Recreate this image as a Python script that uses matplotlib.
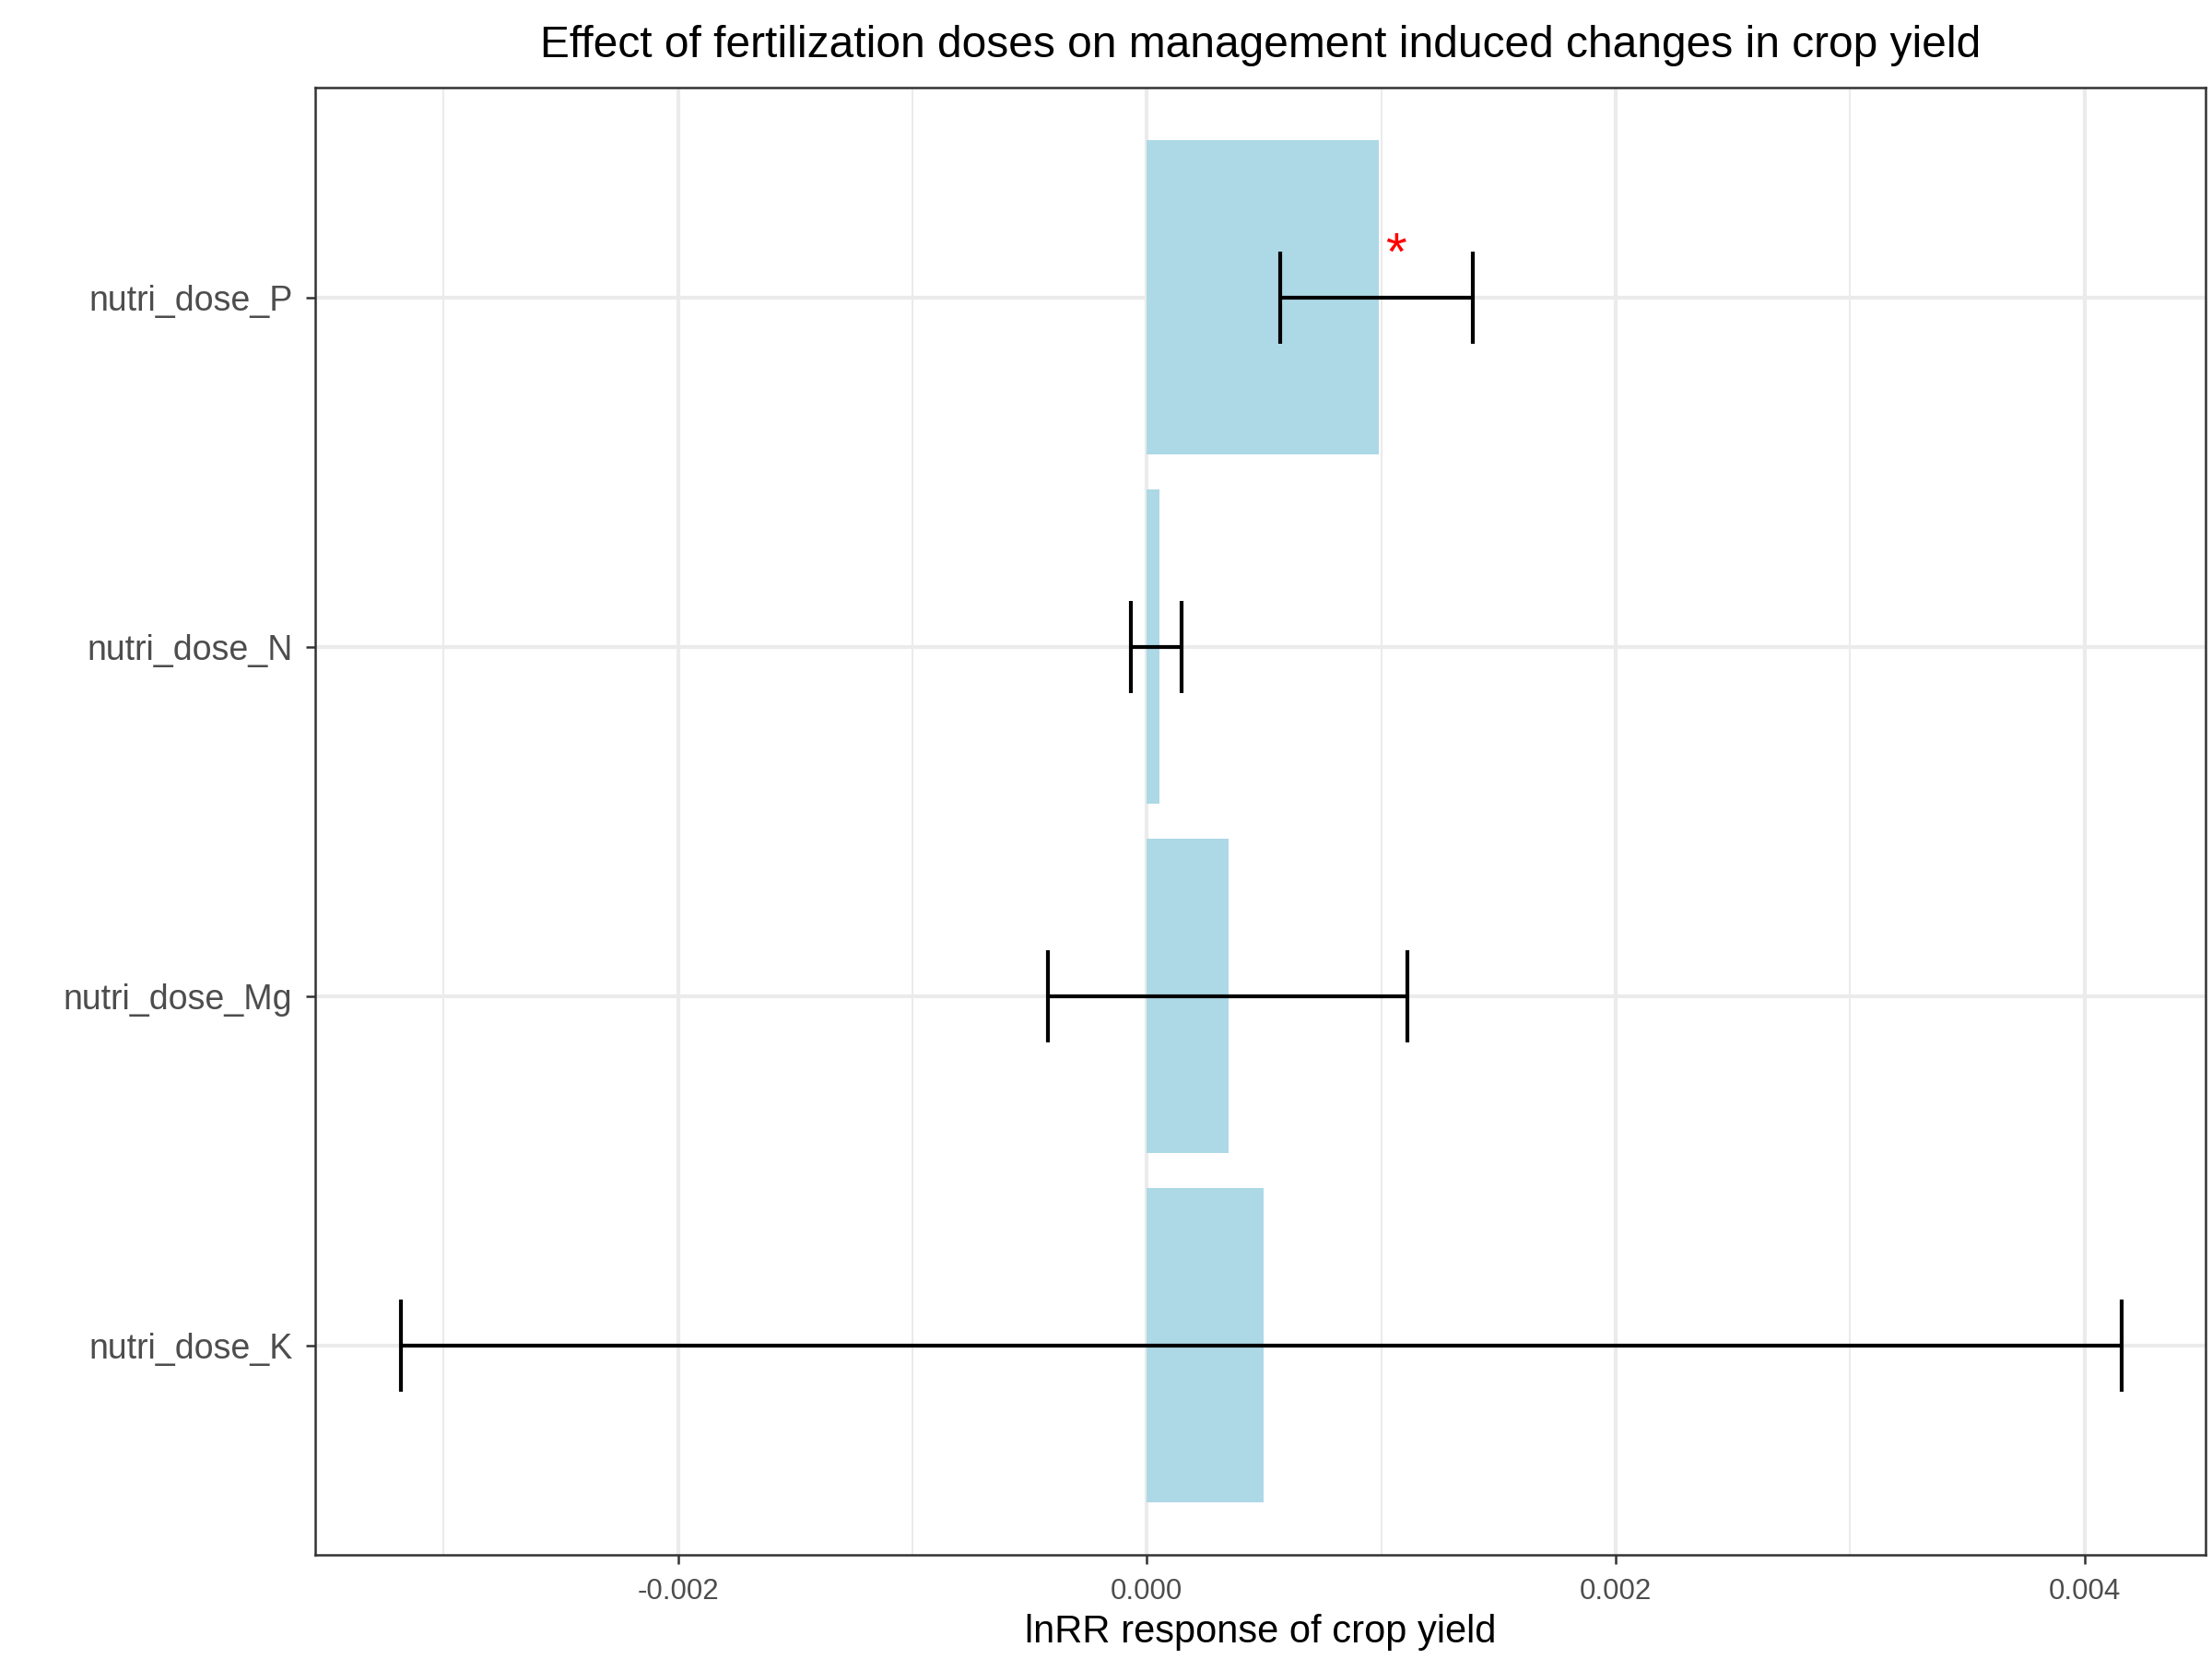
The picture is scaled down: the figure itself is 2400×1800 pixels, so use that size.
import matplotlib.pyplot as plt
import numpy as np

categories = ["nutri_dose_K", "nutri_dose_Mg", "nutri_dose_N", "nutri_dose_P"]
estimate = [0.00050, 0.00035, 0.000055, 0.00099]
ci_low = [-0.00318, -0.00042, -0.000067, 0.00057]
ci_high = [0.00416, 0.00111, 0.00015, 0.00139]
significant = [False, False, False, True]

plt.rcParams['font.family'] = ['Arial', 'Liberation Sans', 'DejaVu Sans']
fig = plt.figure(figsize=(8, 6), dpi=300)
ax = fig.add_axes([0.1427, 0.0626, 0.8543, 0.8844])

y = np.arange(1, len(categories) + 1)
ax.set_xlim(-0.003545, 0.004515)
ax.set_ylim(0.4, 4.6)

# grid like theme_bw
for v in [-0.003, -0.001, 0.001, 0.003]:
    ax.axvline(v, color="#ebebeb", lw=0.5, zorder=0)
for v in [-0.002, 0, 0.002, 0.004]:
    ax.axvline(v, color="#ebebeb", lw=1.0, zorder=0)
for v in y:
    ax.axhline(v, color="#ebebeb", lw=1.0, zorder=0)

ax.barh(y, estimate, height=0.9, color="lightblue", zorder=2)
est = np.array(estimate)
err = [est - np.array(ci_low), np.array(ci_high) - est]
ax.errorbar(est, y, xerr=err, fmt="none", ecolor="black", elinewidth=1,
            capsize=12, capthick=1, zorder=3)
for yi, e, s in zip(y, estimate, significant):
    if s:
        ax.text(e + 0.00007, yi + 0.12, "*", color="red", fontsize=14,
                ha="center", va="center", zorder=4)

ax.set_yticks(y)
ax.set_yticklabels(categories, fontsize=9, color="#4d4d4d")
ax.set_xticks([-0.002, 0, 0.002, 0.004])
ax.set_xticklabels(["-0.002", "0.000", "0.002", "0.004"], fontsize=7.5, color="#4d4d4d")
ax.tick_params(length=2.5, width=0.6, color="#333333")
for sp in ax.spines.values():
    sp.set_linewidth(0.6)
    sp.set_color("#333333")
ax.set_xlabel("lnRR response of crop yield", fontsize=10, labelpad=2)
ax.set_title("Effect of fertilization doses on management induced changes in crop yield",
             fontsize=11.5, pad=8)

fig.savefig("out.png", dpi=300)
